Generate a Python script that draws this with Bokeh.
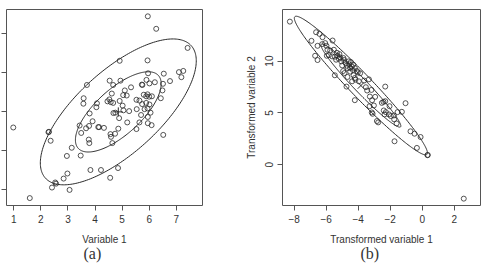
from math import acos, pi

import numpy as np
from bokeh.embed import file_html
from bokeh.layouts import row
from bokeh.models import (ColumnDataSource, CustomJSTickFormatter, FixedTicker,
                          Range1d, Title)
from bokeh.plotting import figure
from bokeh.resources import INLINE

# ---- panel (a): original variables ----
var1 = [5.95, 6.26, 7.42, 4.91, 5.94, 3.70, 5.96, 6.54, 7.10, 7.26, 7.19, 6.77,
        4.54, 4.94, 5.90, 4.67, 5.75, 6.01, 6.21, 6.51, 5.33, 5.10, 4.62, 5.73,
        5.04, 5.17, 6.49, 3.58, 3.57, 4.07, 4.05, 4.53, 4.58, 4.46, 4.67, 4.91,
        5.80, 5.89, 6.00, 6.10, 5.94, 6.43, 5.53, 5.64, 5.74, 5.89, 6.01, 5.02,
        5.94, 5.83, 5.54, 5.05, 5.26, 4.68, 4.75, 6.05, 3.80, 5.70, 4.89, 5.95,
        3.43, 3.67, 3.78, 3.91, 3.49, 4.12, 4.15, 4.33, 5.19, 4.86, 5.53, 5.95,
        6.09, 5.64, 4.74, 4.57, 4.59, 3.77, 3.79, 4.64, 6.52, 0.98, 2.30, 2.28,
        2.36, 3.14, 3.47, 2.96, 2.98, 2.84, 3.83, 4.22, 4.85, 4.56, 2.53, 2.56,
        2.41, 3.06, 1.59]
var2 = [6.44, 6.12, 5.63, 5.30, 5.31, 4.68, 4.98, 4.97, 5.01, 5.04, 4.88, 4.78,
        4.79, 4.79, 4.81, 4.68, 4.68, 4.72, 4.75, 4.71, 4.62, 4.54, 4.46, 4.69,
        4.42, 4.41, 4.54, 4.34, 4.20, 4.21, 4.11, 4.31, 4.24, 4.26, 4.22, 4.27,
        4.43, 4.39, 4.38, 4.39, 4.44, 4.34, 4.30, 4.28, 4.19, 4.22, 4.18, 4.15,
        4.08, 4.06, 4.06, 4.03, 4.01, 3.96, 3.97, 3.97, 3.95, 3.91, 3.83, 3.86,
        3.64, 3.57, 3.63, 3.75, 3.45, 3.60, 3.60, 3.58, 3.72, 3.56, 3.55, 3.70,
        3.65, 3.72, 3.43, 3.42, 3.35, 3.28, 3.19, 3.19, 3.40, 3.59, 3.48, 3.47,
        3.25, 3.07, 2.87, 2.86, 2.41, 2.28, 2.50, 2.50, 2.55, 2.30, 2.18, 2.15,
        2.05, 1.99, 1.78]
mean_a = (4.86, 3.99)
# half-widths of the outer contour along each axis, correlation, inner scale
outer_a = (2.88, 1.87)
rho_a = 0.70
inner_scale_a = 0.55
xticks_a = [1, 2, 3, 4, 5, 6, 7]
yticks_a = [2, 3, 4, 5, 6]

# ---- panel (b): transformed variables ----
tvar1 = [-8.27, -6.63, -6.42, -6.23, -6.92, -5.60, -6.25, -6.54, -6.06, -5.98,
         -5.92, -5.75, -5.52, -5.33, -5.17, -5.96, -5.63, -5.46, -5.29, -5.13,
         -4.92, -6.69, -6.54, -5.06, -4.88, -4.79, -5.00, -4.71, -4.56, -4.40,
         -4.21, -4.08, -4.02, -4.33, -4.50, -4.94, -4.85, -4.67, -5.46, -4.21,
         -4.38, -4.17, -3.63, -3.33, -4.73, -3.52, -3.44, -3.17, -2.31, -4.21,
         -3.27, -2.94, -3.13, -3.29, -3.02, -3.15, -3.10, -2.52, -2.42, -2.31,
         -2.04, -2.40, -2.27, -2.35, -2.08, -1.96, -1.77, -1.54, -1.27, -1.04,
         -1.75, -1.60, -2.83, -2.75, -1.73, -0.73, -0.48, -0.10, -0.33, 0.33,
         0.35, 2.60, -5.83, -5.38, -5.21, -4.60, -4.46, -4.31, -4.67, -4.50,
         -3.88, -4.29, -3.96]
tvar2 = [13.80, 12.78, 12.62, 12.30, 11.95, 11.98, 11.63, 11.47, 11.73, 11.47,
         11.09, 11.02, 11.09, 10.80, 10.67, 10.51, 10.45, 10.42, 10.51, 10.35,
         10.29, 10.51, 10.10, 9.97, 10.10, 9.81, 9.58, 9.55, 9.68, 9.49,
         9.33, 9.04, 8.91, 9.14, 8.98, 9.04, 8.85, 8.47, 8.63, 8.37,
         8.05, 8.21, 8.12, 8.24, 7.54, 7.48, 7.16, 7.22, 7.54, 6.23,
         6.58, 6.55, 6.23, 5.65, 5.72, 5.05, 4.92, 5.97, 6.07, 6.13,
         5.65, 5.24, 5.08, 4.86, 4.86, 4.70, 4.76, 5.08, 5.11, 5.94,
         4.38, 3.99, 4.22, 4.09, 2.27, 3.23, 3.00, 2.68, 1.63, 0.93,
         0.95, -3.26, 10.57, 10.13, 10.22, 9.97, 9.90, 9.65, 9.33, 9.33,
         8.82, 8.63, 8.05]
mean_b = (-3.83, 7.64)
outer_b = (4.16, 6.68)
rho_b = -0.972
inner_scale_b = 0.60
xticks_b = [-8, -6, -4, -2, 0, 2]
yticks_b = [0, 5, 10]

INK = "#2a2a2a"
FRAME = "#555555"
SANS = "Liberation Sans"


def contour(center, half, rho, scale):
    """Points of a correlation ellipse with the given axis half-extents."""
    t = np.linspace(0, 2 * pi, 241)
    d = acos(rho)
    xs = center[0] + scale * half[0] * np.cos(t)
    ys = center[1] + scale * half[1] * np.cos(t + d)
    return xs, ys


def base_figure(width, xr, yr, left, right, top, bottom):
    p = figure(width=width, height=272, x_range=Range1d(*xr), y_range=Range1d(*yr),
               output_backend="svg", toolbar_location=None,
               min_border_left=left, min_border_right=right,
               min_border_top=top, min_border_bottom=bottom)
    p.grid.visible = False
    p.outline_line_color = FRAME
    p.outline_line_width = 1
    p.background_fill_color = "white"
    p.border_fill_color = "white"
    for ax in (p.xaxis[0], p.yaxis[0]):
        ax.axis_line_color = None
        ax.major_tick_line_color = FRAME
        ax.major_tick_in = 0
        ax.major_tick_out = 5
        ax.minor_tick_line_color = None
        ax.major_label_text_font = SANS
        ax.major_label_text_font_size = "10px"
        ax.major_label_text_color = "#333333"
        ax.axis_label_text_font = SANS
        ax.axis_label_text_font_size = "10px"
        ax.axis_label_text_font_style = "normal"
        ax.axis_label_text_color = "#333333"
    return p


def draw(p, xs, ys, center, half, rho, inner, cmark):
    src = ColumnDataSource(dict(x=xs, y=ys))
    p.scatter("x", "y", source=src, marker="circle", size=5, fill_color=None,
              line_color=INK, line_width=0.8)
    for s in (1.0, inner):
        ex, ey = contour(center, half, rho, s)
        p.line(ex, ey, line_color=INK, line_width=1)
    p.scatter([center[0]], [center[1]], marker=cmark, size=9,
              line_color=INK, line_width=1)


def caption(p, text, shift):
    p.add_layout(Title(text=text, align="left", offset=shift, standoff=-9,
                       text_font="Liberation Serif", text_font_size="16px",
                       text_font_style="normal", text_color="#333333"), "below")


# panel (a)
pa = base_figure(240, (0.73, 7.97), (1.59, 6.615), 6, 38, 9, 67)
pa.xaxis.ticker = FixedTicker(ticks=xticks_a)
pa.yaxis.ticker = FixedTicker(ticks=yticks_a)
pa.yaxis.formatter = CustomJSTickFormatter(code="return ''")
pa.yaxis.major_label_standoff = 0
pa.xaxis.major_label_standoff = 4
pa.xaxis.axis_label = "Variable 1"
pa.xaxis.axis_label_standoff = 8
draw(pa, var1, var2, mean_a, outer_a, rho_a, inner_scale_a, "cross")
caption(pa, "(a)", 77)

# panel (b)
pb = base_figure(241, (-8.73, 3.645), (-3.92, 14.97), 42, 1, 8, 67)
pb.xaxis.ticker = FixedTicker(ticks=xticks_b)
pb.yaxis.ticker = FixedTicker(ticks=yticks_b)
pb.yaxis.major_label_orientation = "vertical"
pb.yaxis.major_label_standoff = 4
pb.xaxis.major_label_standoff = 4
pb.xaxis.axis_label = "Transformed variable 1"
pb.yaxis.axis_label = "Transformed variable 2"
pb.xaxis.axis_label_standoff = 8
pb.yaxis.axis_label_standoff = 6
draw(pb, tvar1, tvar2, mean_b, outer_b, rho_b, inner_scale_b, "x")
caption(pb, "(b)", 78)

layout = row(pa, pb)
open("out.html", "w").write(file_html(layout, INLINE))
